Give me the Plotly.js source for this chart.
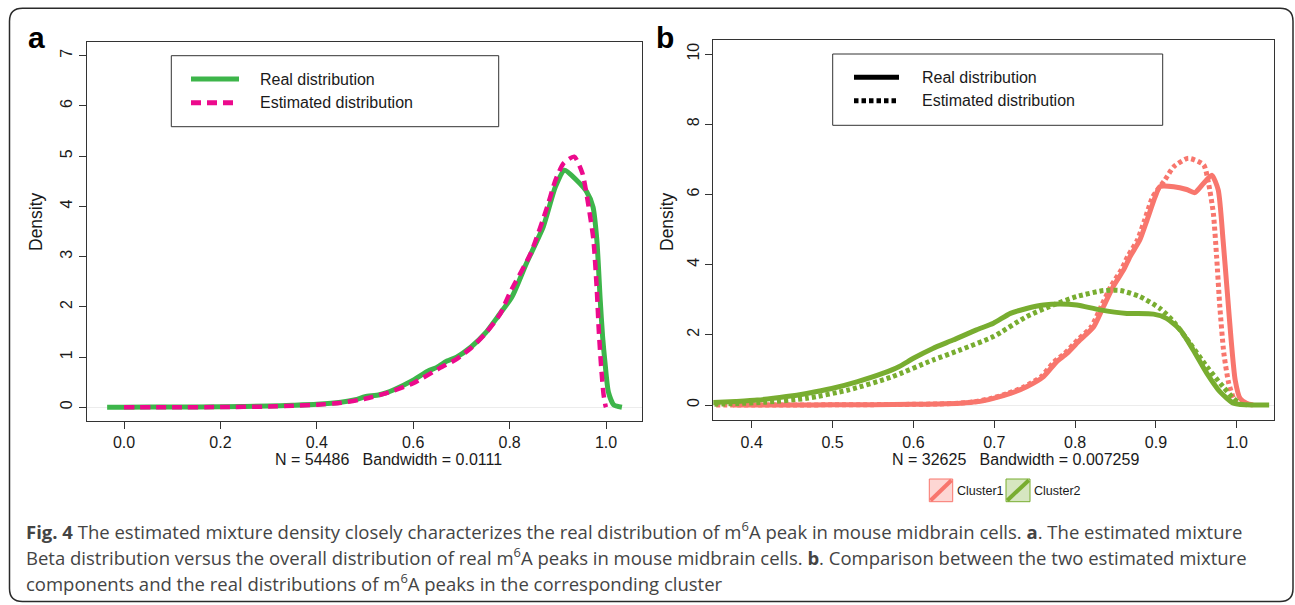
<!DOCTYPE html>
<html>
<head>
<meta charset="utf-8">
<script src="https://cdn.plot.ly/plotly-3.0.1.min.js"></script>
<style>html,body{margin:0;padding:0;background:#fff;}#chart{width:1295px;height:605px;}</style>
</head>
<body>
<div id="chart"></div>
<script>
// ---------- Panel a data ----------
const aRealX = [-0.035, 0.0, 0.1, 0.2, 0.3, 0.35, 0.4, 0.45, 0.48, 0.5, 0.53, 0.56, 0.6, 0.63, 0.65, 0.67, 0.69, 0.72, 0.75, 0.775, 0.805, 0.835, 0.87, 0.895, 0.914, 0.938, 0.96, 0.973, 0.981, 0.988, 0.993, 0.998, 1.005, 1.016, 1.033];
const aRealY = [0, 0.002, 0.005, 0.01, 0.025, 0.04, 0.06, 0.10, 0.15, 0.21, 0.25, 0.35, 0.54, 0.72, 0.80, 0.92, 1.0, 1.2, 1.48, 1.80, 2.2, 2.87, 3.6, 4.39, 4.72, 4.53, 4.29, 3.99, 3.33, 2.14, 1.4, 0.88, 0.3, 0.05, 0.0];
const aEstX = [0.0, 0.1, 0.2, 0.3, 0.35, 0.4, 0.45, 0.5, 0.55, 0.6, 0.655, 0.69, 0.72, 0.75, 0.78, 0.80, 0.844, 0.878, 0.895, 0.912, 0.934, 0.951, 0.964, 0.974, 0.981, 0.985, 0.99, 0.995, 0.999, 1.0];
const aEstY = [0, 0.001, 0.004, 0.015, 0.03, 0.05, 0.09, 0.17, 0.3, 0.48, 0.78, 0.96, 1.18, 1.47, 1.85, 2.27, 3.07, 3.99, 4.52, 4.86, 4.99, 4.66, 3.99, 3.33, 2.33, 1.54, 0.8, 0.25, 0.03, 0];
const aTickVals = [0, 0.2, 0.4, 0.6, 0.8, 1.0];
const aTickText = ['0.0', '0.2', '0.4', '0.6', '0.8', '1.0'];
const aYTicks = [0, 1, 2, 3, 4, 5, 6, 7];

// ---------- Panel b data ----------
const c1RealX = [0.377, 0.45, 0.5, 0.55, 0.6, 0.63, 0.658, 0.678, 0.699, 0.720, 0.740, 0.761, 0.777, 0.790, 0.806, 0.823, 0.835, 0.847, 0.860, 0.868, 0.880, 0.889, 0.899, 0.905, 0.922, 0.938, 0.948, 0.959, 0.969, 0.977, 0.983, 0.988, 0.993, 0.998, 1.004, 1.012, 1.02];
const c1RealY = [0.0, 0.0, 0.005, 0.01, 0.02, 0.03, 0.05, 0.09, 0.19, 0.33, 0.52, 0.81, 1.23, 1.47, 1.85, 2.23, 2.80, 3.37, 3.85, 4.23, 4.70, 5.27, 5.93, 6.22, 6.22, 6.14, 6.05, 6.32, 6.55, 6.13, 4.70, 3.28, 1.85, 0.71, 0.19, 0.05, 0.0];
const c1EstX = [0.356, 0.45, 0.5, 0.55, 0.6, 0.63, 0.655, 0.675, 0.696, 0.717, 0.737, 0.758, 0.774, 0.787, 0.803, 0.820, 0.832, 0.844, 0.857, 0.865, 0.877, 0.886, 0.896, 0.911, 0.922, 0.940, 0.959, 0.965, 0.971, 0.975, 0.979, 0.984, 0.990, 0.996, 1.0];
const c1EstY = [0.0, 0.0, 0.005, 0.01, 0.02, 0.03, 0.05, 0.09, 0.19, 0.33, 0.52, 0.81, 1.23, 1.47, 1.85, 2.23, 2.80, 3.37, 3.85, 4.23, 4.70, 5.27, 5.93, 6.41, 6.79, 7.03, 6.84, 6.32, 5.46, 4.23, 2.80, 1.47, 0.62, 0.19, 0.02];
const c2RealX = [0.345, 0.38, 0.407, 0.443, 0.468, 0.499, 0.530, 0.562, 0.582, 0.600, 0.624, 0.649, 0.678, 0.699, 0.720, 0.740, 0.761, 0.781, 0.802, 0.831, 0.864, 0.897, 0.913, 0.930, 0.946, 0.963, 0.979, 0.996, 1.012, 1.04];
const c2RealY = [0.06, 0.10, 0.14, 0.24, 0.33, 0.47, 0.66, 0.90, 1.09, 1.33, 1.61, 1.85, 2.14, 2.33, 2.61, 2.75, 2.85, 2.88, 2.85, 2.71, 2.61, 2.59, 2.47, 2.14, 1.57, 0.90, 0.38, 0.05, 0.005, 0.0];
const c2EstX = [0.345, 0.38, 0.417, 0.468, 0.520, 0.572, 0.624, 0.658, 0.699, 0.740, 0.773, 0.802, 0.835, 0.856, 0.880, 0.905, 0.922, 0.942, 0.963, 0.983, 0.996, 1.004, 1.012];
const c2EstY = [0.02, 0.04, 0.08, 0.19, 0.43, 0.79, 1.28, 1.57, 1.95, 2.52, 2.85, 3.09, 3.26, 3.26, 3.09, 2.75, 2.37, 1.76, 1.09, 0.52, 0.19, 0.03, 0.0];
const bTickVals = [0.4, 0.5, 0.6, 0.7, 0.8, 0.9, 1.0];
const bTickText = ['0.4', '0.5', '0.6', '0.7', '0.8', '0.9', '1.0'];
const bYTicks = [0, 2, 4, 6, 8, 10];

// ---------- Text ----------
const legendLabels = ['Real distribution', 'Estimated distribution'];
const clusterLabels = ['Cluster1', 'Cluster2'];
const yLabel = 'Density';
const aXLabel = 'N = 54486   Bandwidth = 0.0111';
const bXLabel = 'N = 32625   Bandwidth = 0.007259';
const captionLines = [
  '<b>Fig. 4</b> The estimated mixture density closely characterizes the real distribution of m<sup>6</sup>A peak in mouse midbrain cells. <b>a</b>. The estimated mixture',
  'Beta distribution versus the overall distribution of real m<sup>6</sup>A peaks in mouse midbrain cells. <b>b</b>. Comparison between the two estimated mixture',
  'components and the real distributions of m<sup>6</sup>A peaks in the corresponding cluster'
];

// ---------- Styling ----------
const W = 1295, H = 605;
const px = x => x / W;
const py = y => 1 - y / H;
const FONT = 'Liberation Sans, Arial, sans-serif';
const TXT = '#1a1a1a';
const AX = '#333333';
const GREEN_A = '#3db54a';
const PINK = '#ec0a8c';
const SALMON = '#f8766d';
const GREEN_B = '#78ad30';

const traces = [
  {x: aRealX, y: aRealY, xaxis: 'x', yaxis: 'y', mode: 'lines', name: legendLabels[0],
   line: {color: GREEN_A, width: 5, shape: 'spline', smoothing: 0.6}, showlegend: false, hoverinfo: 'skip'},
  {x: aEstX, y: aEstY, xaxis: 'x', yaxis: 'y', mode: 'lines', name: legendLabels[1],
   line: {color: PINK, width: 4.5, dash: '10px,6px', shape: 'spline', smoothing: 0.6}, showlegend: false, hoverinfo: 'skip'},
  {x: c1RealX, y: c1RealY, xaxis: 'x2', yaxis: 'y2', mode: 'lines', name: clusterLabels[0] + ' real',
   line: {color: SALMON, width: 5, shape: 'spline', smoothing: 0.6}, showlegend: false, hoverinfo: 'skip'},
  {x: c1EstX, y: c1EstY, xaxis: 'x2', yaxis: 'y2', mode: 'lines', name: clusterLabels[0] + ' estimated',
   line: {color: SALMON, width: 5, dash: '4px,3px', shape: 'spline', smoothing: 0.6}, showlegend: false, hoverinfo: 'skip'},
  {x: c2RealX, y: c2RealY, xaxis: 'x2', yaxis: 'y2', mode: 'lines', name: clusterLabels[1] + ' real',
   line: {color: GREEN_B, width: 5, shape: 'spline', smoothing: 0.6}, showlegend: false, hoverinfo: 'skip'},
  {x: c2EstX, y: c2EstY, xaxis: 'x2', yaxis: 'y2', mode: 'lines', name: clusterLabels[1] + ' estimated',
   line: {color: GREEN_B, width: 5, dash: '4px,3px', shape: 'spline', smoothing: 0.6}, showlegend: false, hoverinfo: 'skip'}
];

function axisBase() {
  return {
    showline: true, mirror: true, linecolor: AX, linewidth: 1,
    ticks: 'outside', ticklen: 7, tickwidth: 1, tickcolor: AX,
    showgrid: false, zeroline: false, fixedrange: true,
    tickfont: {family: FONT, size: 16, color: TXT}
  };
}

const layout = {
  width: W, height: H,
  margin: {l: 0, r: 0, t: 0, b: 0},
  paper_bgcolor: '#ffffff', plot_bgcolor: '#ffffff',
  showlegend: false,
  xaxis: Object.assign(axisBase(), {
    domain: [px(86.7), px(642.3)], range: [-0.0774, 1.0753], anchor: 'y',
    tickvals: aTickVals, ticktext: aTickText
  }),
  yaxis: Object.assign(axisBase(), {
    domain: [py(421), py(41.7)], range: [-0.273, 7.28], anchor: 'x',
    tickvals: aYTicks, ticktext: aYTicks.map(String), tickangle: -90,
    zeroline: true, zerolinecolor: '#ececec', zerolinewidth: 1
  }),
  xaxis2: Object.assign(axisBase(), {
    domain: [px(713.3), px(1274)], range: [0.3525, 1.046], anchor: 'y2',
    tickvals: bTickVals, ticktext: bTickText
  }),
  yaxis2: Object.assign(axisBase(), {
    domain: [py(420.3), py(40)], range: [-0.436, 10.4], anchor: 'x2',
    tickvals: bYTicks, ticktext: bYTicks.map(String), tickangle: -90,
    zeroline: true, zerolinecolor: '#ececec', zerolinewidth: 1
  }),
  shapes: [],
  annotations: []
};

// rounded outer frame
function roundRect(x0, y0, x1, y1, r) {
  const X = v => px(v), Y = v => py(v);
  return 'M' + X(x0 + r) + ',' + Y(y0) +
    ' L' + X(x1 - r) + ',' + Y(y0) +
    ' Q' + X(x1) + ',' + Y(y0) + ' ' + X(x1) + ',' + Y(y0 + r) +
    ' L' + X(x1) + ',' + Y(y1 - r) +
    ' Q' + X(x1) + ',' + Y(y1) + ' ' + X(x1 - r) + ',' + Y(y1) +
    ' L' + X(x0 + r) + ',' + Y(y1) +
    ' Q' + X(x0) + ',' + Y(y1) + ' ' + X(x0) + ',' + Y(y1 - r) +
    ' L' + X(x0) + ',' + Y(y0 + r) +
    ' Q' + X(x0) + ',' + Y(y0) + ' ' + X(x0 + r) + ',' + Y(y0) + ' Z';
}
layout.shapes.push({type: 'path', xref: 'paper', yref: 'paper', path: roundRect(9.5, 8.3, 1293, 601.5, 13),
  line: {color: '#2a2a2a', width: 1.5}, fillcolor: 'rgba(0,0,0,0)', layer: 'below'});

function pline(x0, y0, x1, y1, color, width, dash) {
  layout.shapes.push({type: 'line', xref: 'paper', yref: 'paper', x0: px(x0), y0: py(y0), x1: px(x1), y1: py(y1),
    line: {color: color, width: width, dash: dash || 'solid'}});
}
function prect(x0, y0, x1, y1, color, width, fill) {
  layout.shapes.push({type: 'rect', xref: 'paper', yref: 'paper', x0: px(x0), y0: py(y0), x1: px(x1), y1: py(y1),
    line: {color: color, width: width}, fillcolor: fill || 'rgba(0,0,0,0)'});
}
function ptext(text, x, y, opts) {
  const o = opts || {};
  layout.annotations.push({text: text, xref: 'paper', yref: 'paper', x: px(x), y: py(y), showarrow: false,
    xanchor: o.xanchor || 'left', yanchor: o.yanchor || 'middle', textangle: o.angle || 0,
    font: {family: o.family || FONT, size: o.size || 16, color: o.color || TXT}});
}

// y-axis labels
ptext(yLabel, 36, 222, {xanchor: 'center', angle: -90, size: 17.5});
ptext(yLabel, 667, 222, {xanchor: 'center', angle: -90, size: 17.5});

// legend panel a
prect(171.3, 55.7, 498.7, 126.7, AX, 1);
pline(191, 79, 239, 79, GREEN_A, 5);
pline(191, 102.7, 239, 102.7, PINK, 5, '10px,6px');
ptext(legendLabels[0], 258, 79);
ptext(legendLabels[1], 258, 102.7);

// legend panel b
prect(832.7, 54, 1162.7, 125.3, AX, 1);
pline(854, 77.3, 899, 77.3, '#000000', 5);
pline(854, 100.7, 899, 100.7, '#000000', 5, '4.5px,3px');
ptext(legendLabels[0], 920, 77.3);
ptext(legendLabels[1], 920, 100.7);

// cluster legend
prect(929.3, 479, 952.7, 501.7, SALMON, 1, 'rgba(248,118,109,0.3)');
pline(930.5, 500.5, 951.5, 480.2, SALMON, 4);
ptext(clusterLabels[0], 954.5, 490.7, {size: 12.5});
prect(1006, 479, 1030, 501.7, GREEN_B, 1, 'rgba(120,173,48,0.3)');
pline(1007.2, 500.5, 1028.8, 480.2, GREEN_B, 4);
ptext(clusterLabels[1], 1031.5, 490.7, {size: 12.5});

// x labels (density bandwidth notes)
ptext(aXLabel, 388.5, 459, {xanchor: 'center'});
ptext(bXLabel, 1015, 459, {xanchor: 'center'});

// panel letters
ptext('<b>a</b>', 36, 37, {xanchor: 'center', size: 30, color: '#000'});
ptext('<b>b</b>', 665, 37, {xanchor: 'center', size: 30, color: '#000'});

// caption
const capY = [530.7, 556.7, 582.3];
captionLines.forEach((t, i) => ptext(t, 24, capY[i], {family: 'Open Sans, sans-serif', size: 18.5, color: '#444444'}));

Plotly.newPlot('chart', traces, layout, {staticPlot: true, displayModeBar: false});
</script>
</body>
</html>
